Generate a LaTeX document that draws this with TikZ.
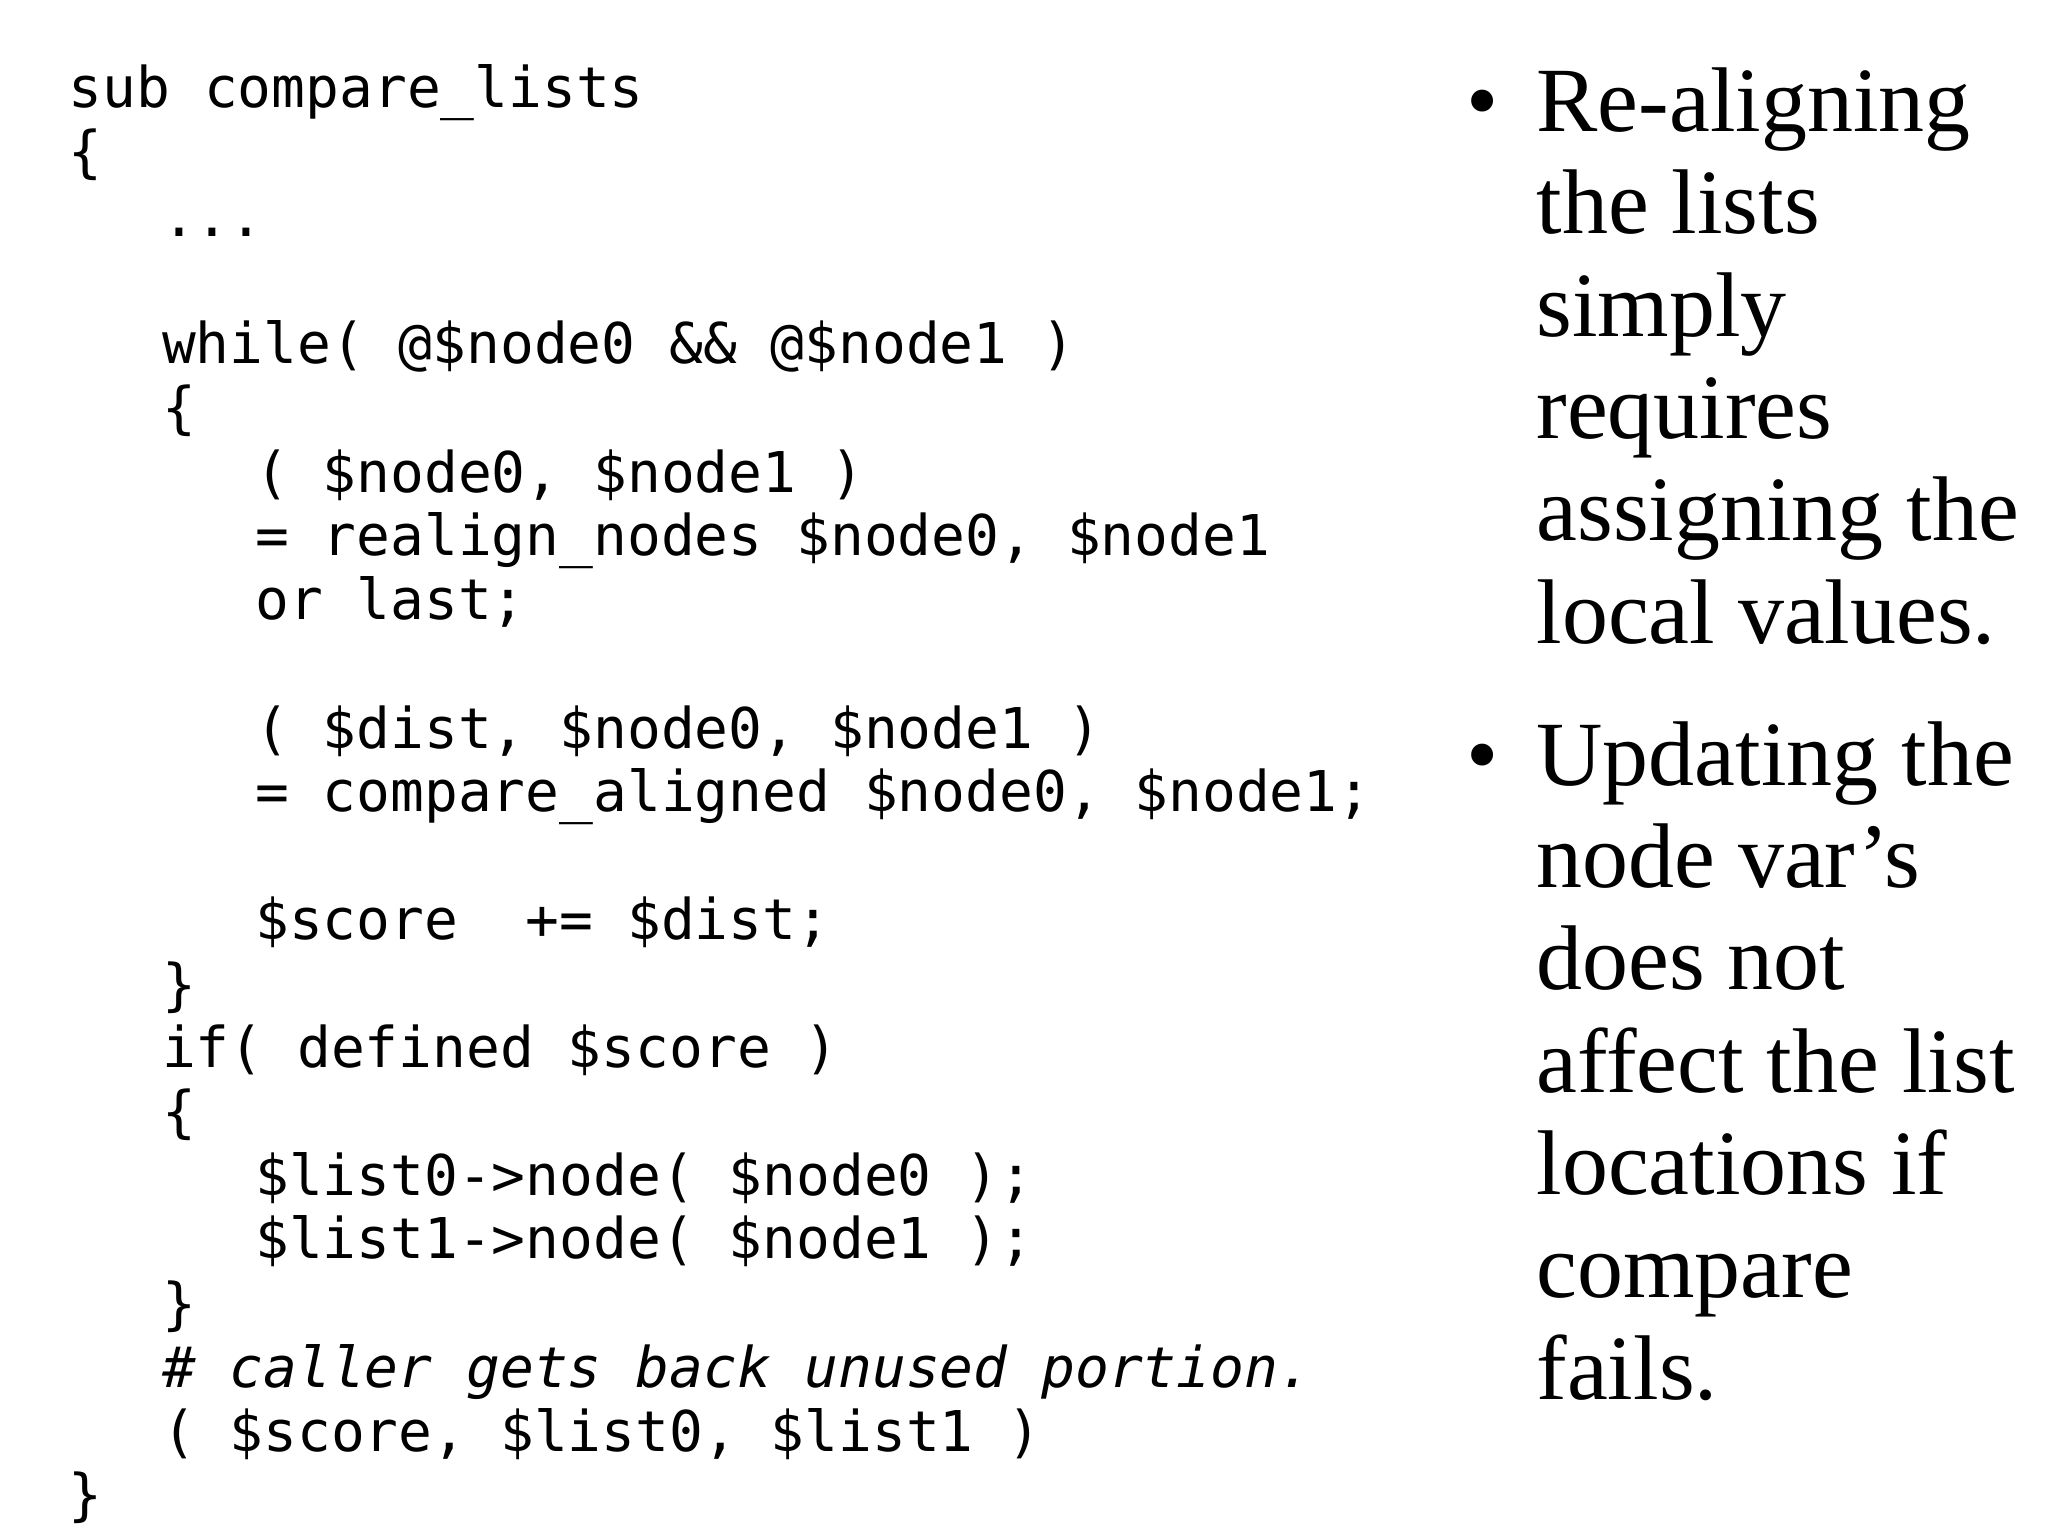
\documentclass[tikz,border=0pt]{standalone}
\usepackage{fontspec}
\setmainfont{Liberation Serif}
\setmonofont{DejaVu Sans Mono}
\begin{document}
\begin{tikzpicture}[x=0.5pt,y=-0.5pt,
  code/.style={anchor=base west,inner sep=0pt,font=\ttfamily\fontsize{21.4pt}{24pt}\selectfont},
  bul/.style={anchor=base west,inner sep=0pt,font=\fontsize{35pt}{39pt}\selectfont}]
\useasboundingbox (0,0) rectangle (1560,1170);
\def\la{52}\def\lb{123}\def\lc{194}
\node[code] (c1) at (\la,82) {sub compare\_lists};
\node[code] (c2) at (\la,131) {\{};
\node[code] (c3) at (\lb,180) {...};
\node[code] (c5) at (\lb,277) {while( @\$node0 \&\& @\$node1 )};
\node[code] (c6) at (\lb,326) {\{};
\node[code] (c7) at (\lc,375) {( \$node0, \$node1 )};
\node[code] (c8) at (\lc,423) {= realign\_nodes \$node0, \$node1};
\node[code] (c9) at (\lc,472) {or last;};
\node[code] (c11) at (\lc,570) {( \$dist, \$node0, \$node1 )};
\node[code] (c12) at (\lc,618) {= compare\_aligned \$node0, \$node1;};
\node[code] (c14) at (\lc,716) {\$score\ \ += \$dist;};
\node[code] (c15) at (\lb,765) {\}};
\node[code] (c16) at (\lb,813) {if( defined \$score )};
\node[code] (c17) at (\lb,862) {\{};
\node[code] (c18) at (\lc,911) {\$list0->node( \$node0 );};
\node[code] (c19) at (\lc,959) {\$list1->node( \$node1 );};
\node[code] (c20) at (\lb,1008) {\}};
\node[code] (c21) at (\lb,1057) {\itshape \# caller gets back unused portion.};
\node[code] (c22) at (\lb,1106) {( \$score, \$list0, \$list1 )};
\node[code] (c23) at (\la,1154) {\}};
\node[bul] (b1) at (1117,100) {\textbullet};
\node[bul] (b2) at (1117,598) {\textbullet};
\foreach \t [count=\i] in {Re-aligning,the lists,simply,requires,assigning the,local values.}
  \node[bul] (p\i) at (1170,{100+78*(\i-1)}) {\t};
\foreach \t [count=\i] in {Updating the,node var's,does not,affect the list,locations if,compare,fails.}
  \node[bul] (q\i) at (1170,{598+78*(\i-1)}) {\t};
\end{tikzpicture}
\end{document}
